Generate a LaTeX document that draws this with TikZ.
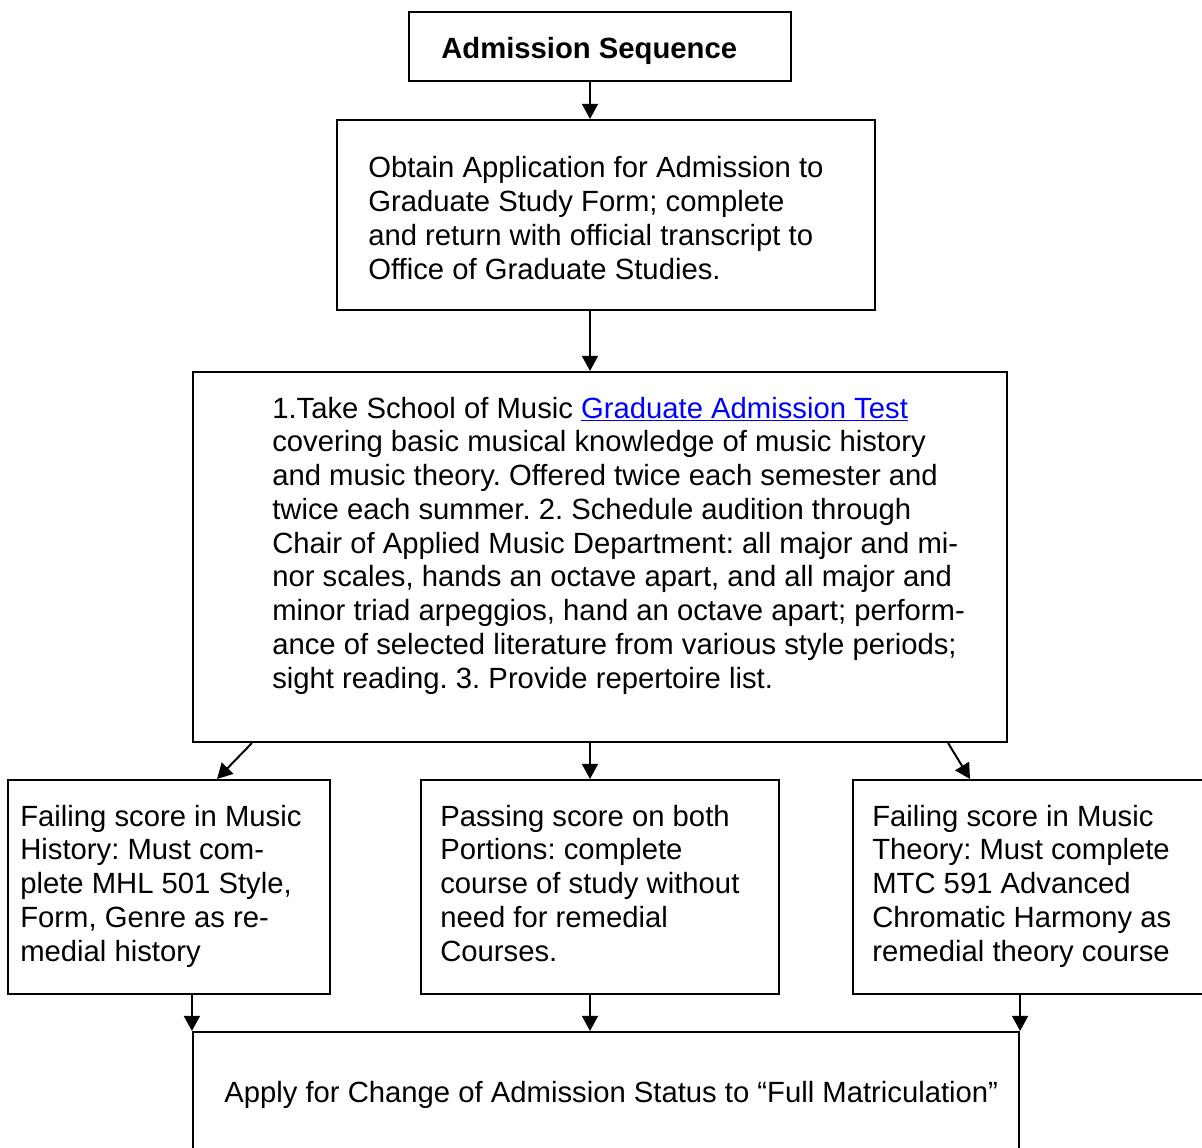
\documentclass[tikz,border=0pt]{standalone}
\usepackage{fontspec}
\setmainfont{Liberation Sans}
\usetikzlibrary{arrows.meta}
\frenchspacing

\definecolor{linkblue}{RGB}{0,0,255}
\newcommand{\weblink}[1]{\textcolor{linkblue}{\underline{#1}}}

\begin{document}
\begin{tikzpicture}[x=0.025cm, y=-0.025cm,
  box/.style={draw, line width=1.4pt, rectangle, inner sep=0pt},
  txt/.style={anchor=base west, align=left, inner sep=0pt,
    font=\fontsize{20.8}{24}\selectfont},
  arr/.style={line width=1.4pt, -{Triangle[length=0.38cm, width=0.4cm]}}]

  \clip (0,0) rectangle (1202,1147);

  % boxes
  \node[box, minimum width=9.55cm, minimum height=1.725cm] (seq) at (600,46.5) {};
  \node[box, minimum width=13.45cm, minimum height=4.75cm] (obtain) at (606,215) {};
  \node[box, minimum width=20.35cm, minimum height=9.25cm] (test) at (600,557) {};
  \node[box, minimum width=8.05cm, minimum height=5.35cm] (hist) at (169,887) {};
  \node[box, minimum width=8.95cm, minimum height=5.35cm] (pass) at (600,887) {};
  \node[box, minimum width=9.05cm, minimum height=5.35cm] (theory) at (1034,887) {};
  \node[box, minimum width=20.65cm, minimum height=3.325cm] (apply) at (606,1098.5) {};

  % texts (base = baseline of the last line)
  \node[txt, font=\fontsize{20.8}{24}\selectfont\bfseries] (seqtext) at (441,58) {Admission Sequence};
  \node[txt] (obtaintext) at (368,279) {Obtain Application for Admission to\\
    Graduate Study Form; complete\\
    and return with official transcript to\\
    Office of Graduate Studies.};
  \node[txt] (testtext) at (272,688) {1.Take School of Music \weblink{Graduate Admission Test}\\
    covering basic musical knowledge of music history\\
    and music theory. Offered twice each semester and\\
    twice each summer. 2. Schedule audition through\\
    Chair of Applied Music Department: all major and mi-\\
    nor scales, hands an octave apart, and all major and\\
    minor triad arpeggios, hand an octave apart; perform-\\
    ance of selected literature from various style periods;\\
    sight reading. 3. Provide repertoire list.};
  \node[txt] (histtext) at (20,961) {Failing score in Music\\
    History: Must com-\\
    plete MHL 501 Style,\\
    Form, Genre as re-\\
    medial history};
  \node[txt] (passtext) at (440,961) {Passing score on both\\
    Portions: complete\\
    course of study without\\
    need for remedial\\
    Courses.};
  \node[txt] (theorytext) at (872,961) {Failing score in Music\\
    Theory: Must complete\\
    MTC 591 Advanced\\
    Chromatic Harmony as\\
    remedial theory course};
  \node[txt] (applytext) at (224,1102) {Apply for Change of Admission Status to “Full Matriculation”};

  % arrows
  \coordinate (mid) at (590,0);
  \draw[arr] (seq.south -| mid) -- (obtain.north -| mid);
  \draw[arr] (obtain.south -| mid) -- (test.north -| mid);
  \draw[arr] ([xshift=1.5cm]test.south west) -- ([xshift=1.2cm]hist.north);
  \draw[arr] (test.south -| mid) -- (pass.north -| mid);
  \draw[arr] ([xshift=-1.5cm]test.south east) -- ([xshift=2.95cm]theory.north west);
  \draw[arr] (hist.south -| apply.west) -- (apply.north west);
  \draw[arr] (pass.south -| mid) -- (apply.north -| mid);
  \draw[arr] (theory.south -| apply.east) -- (apply.north east);

\end{tikzpicture}
\end{document}
